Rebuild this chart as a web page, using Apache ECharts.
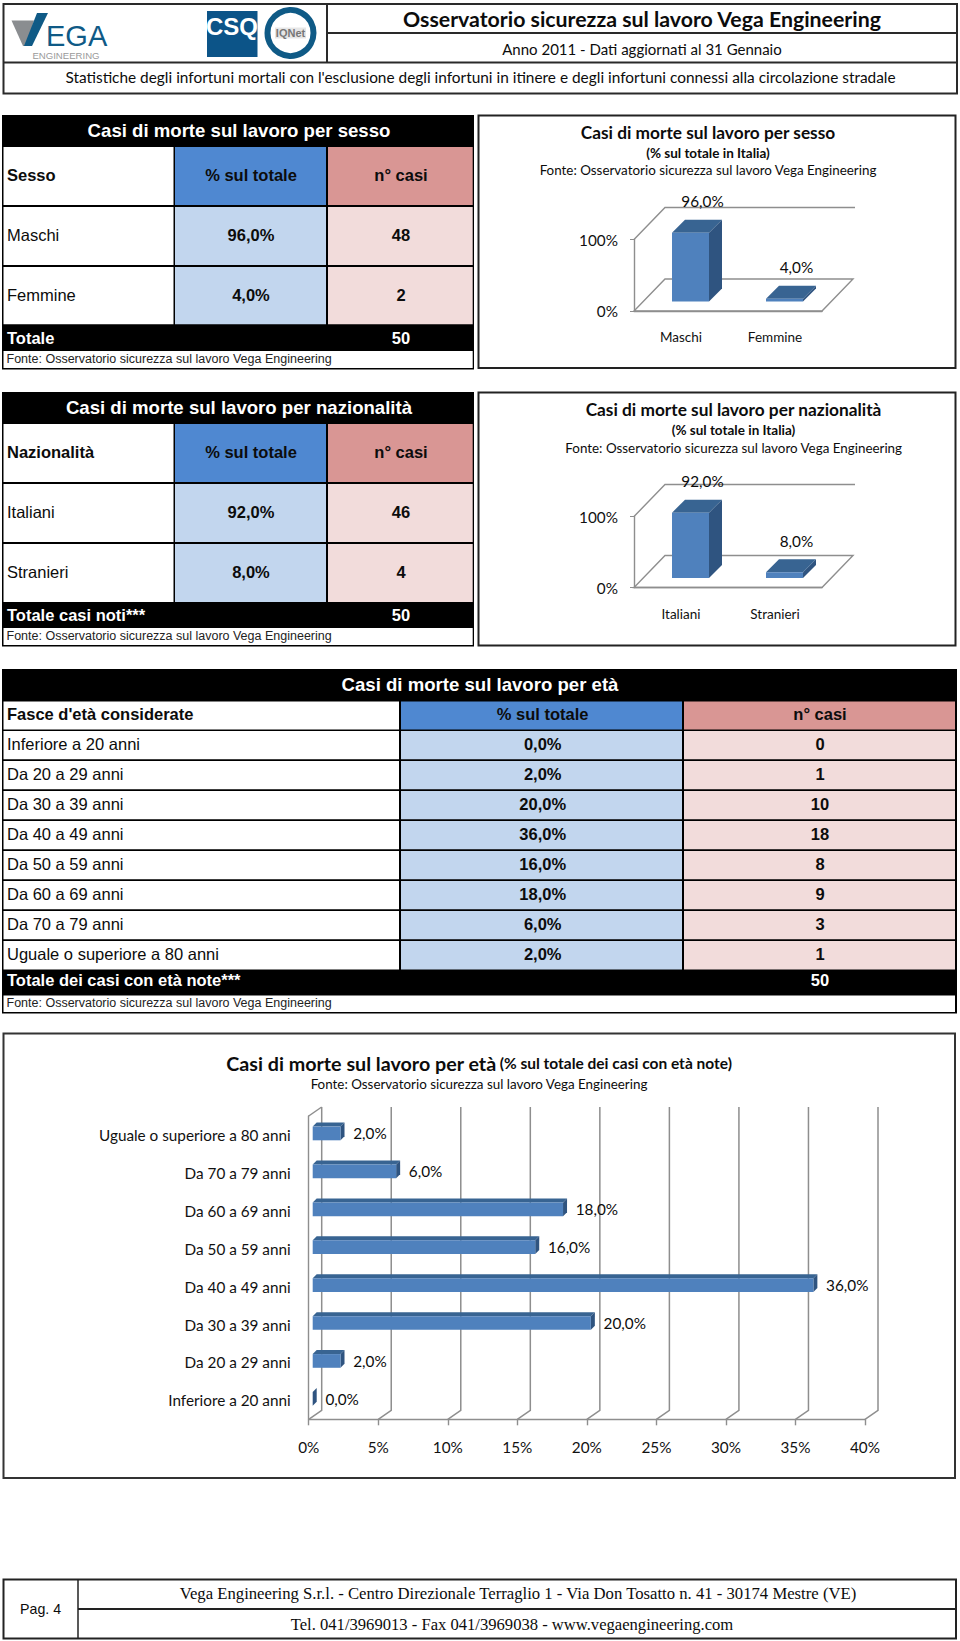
<!DOCTYPE html>
<html><head><meta charset="utf-8">
<style>html,body{margin:0;padding:0;background:#fff}#c{width:960px;height:1641px}</style>
<script src="https://cdn.jsdelivr.net/npm/echarts@6/dist/echarts.min.js"></script>
</head><body><div id="c"></div>
<script>
const genderCategories = ['Maschi', 'Femmine'];
const genderPct = [96, 4];
const genderCases = [48, 2];
const genderTotal = 50;
const nationCategories = ['Italiani', 'Stranieri'];
const nationPct = [92, 8];
const nationCases = [46, 4];
const nationTotal = 50;
const ageCategories = ['Inferiore a 20 anni', 'Da 20 a 29 anni', 'Da 30 a 39 anni', 'Da 40 a 49 anni', 'Da 50 a 59 anni', 'Da 60 a 69 anni', 'Da 70 a 79 anni', 'Uguale o superiore a 80 anni'];
const agePct = [0, 2, 20, 36, 16, 18, 6, 2];
const ageCases = [0, 1, 10, 18, 8, 9, 3, 1];
const ageTotal = 50;
const shareTicks = [100, 0];
const ageTicks = [0, 5, 10, 15, 20, 25, 30, 35, 40];

const SANS = '"Liberation Sans"', CAL = 'Lato', SERIF = '"Liberation Serif"';
const FRONT = '#4f81bd', TOP = '#386492', SIDE = '#2f5480', GRID = '#8e8e8e';
const fmt = v => v.toFixed(1).replace('.', ',') + '%';
const els = [];
function rect(x0, y0, x1, y1, fill, stroke, lw) {
  els.push({type: 'rect', silent: true, shape: {x: x0, y: y0, width: x1 - x0, height: y1 - y0},
    style: {fill: fill || 'none', stroke: stroke || null, lineWidth: lw || 0}});
}
function text(t, x, y, size, opt) {
  opt = opt || {};
  els.push({type: 'text', silent: true, style: {text: t, x: x, y: y, fill: opt.color || '#0c0c0c',
    font: (opt.bold ? 'bold ' : '') + size + 'px ' + (opt.family || SANS),
    align: opt.align || 'center', verticalAlign: 'middle'}});
}
function poly(points, fill) {
  els.push({type: 'polygon', silent: true, shape: {points: points}, style: {fill: fill}});
}
const BLUE_H = '#4f88d1', RED_H = '#d99694', BLUE_C = '#c2d6ee', RED_C = '#f2dcdb';

function sideTable(t) {
  rect(2, t.top, 474, t.bottom + 1, '#000');
  text(t.title, 239, t.titleY, 18.6, {color: '#fff', bold: true});
  rect(3.5, t.rows[0][0], 173.5, t.rows[0][1], '#fff');
  rect(175, t.rows[0][0], 326, t.rows[0][1], BLUE_H);
  rect(328, t.rows[0][0], 472.7, t.rows[0][1], RED_H);
  text(t.head, 7, t.headY, 16.5, {bold: true, align: 'left'});
  text('% sul totale', 251, t.headY, 16.5, {bold: true});
  text('n° casi', 401, t.headY, 16.5, {bold: true});
  t.cats.forEach((c, i) => {
    const r = t.rows[i + 1];
    rect(3.5, r[0], 173.5, r[1], '#fff');
    rect(175, r[0], 326, r[1], BLUE_C);
    rect(328, r[0], 472.7, r[1], RED_C);
    text(c, 7, t.rowY[i], 16.5, {align: 'left'});
    text(fmt(t.pct[i]), 251, t.rowY[i], 16.5, {bold: true});
    text(String(t.cases[i]), 401, t.rowY[i], 16.5, {bold: true});
  });
  text(t.totalLabel, 7, t.totalY, 16.5, {color: '#fff', bold: true, align: 'left'});
  text(String(t.total), 401, t.totalY - 0.5, 16.5, {color: '#fff', bold: true});
  rect(3.5, t.fonteTop, 472.7, t.bottom - 0.5, '#fff');
  text('Fonte: Osservatorio sicurezza sul lavoro Vega Engineering', 6.5, t.fonteY, 12.5, {align: 'left', color: '#222'});
}

/* header */
rect(3.5, 4, 957, 93.5, '#fff', '#2a2a2a', 2);
els.push({type: 'line', silent: true, shape: {x1: 3.5, y1: 62.5, x2: 957, y2: 62.5}, style: {stroke: '#2a2a2a', lineWidth: 2}});
els.push({type: 'line', silent: true, shape: {x1: 327, y1: 4, x2: 327, y2: 62.5}, style: {stroke: '#2a2a2a', lineWidth: 2}});
els.push({type: 'line', silent: true, shape: {x1: 327, y1: 33, x2: 957, y2: 33}, style: {stroke: '#2a2a2a', lineWidth: 2}});
poly([[11.5, 20.5], [34, 20.5], [27, 46], [23, 46]], '#8a8d90');
poly([[24, 46], [32, 46], [48, 13], [37, 13]], '#0f5a86');
text('EGA', 46, 35.5, 29, {color: '#0f5a86', align: 'left'});
text('ENGINEERING', 66, 55, 9.6, {color: '#9a9a9a'});
rect(207, 11, 257.5, 57, '#0c5488');
text('CSQ', 232, 26, 24, {color: '#fff', bold: true});
els.push({type: 'circle', silent: true, shape: {cx: 290.5, cy: 33, r: 23}, style: {fill: '#fff', stroke: '#0f5a86', lineWidth: 6}});
rect(275, 27.5, 306, 38.5, '#e6e6e6');
text('IQNet', 290.5, 33, 11, {color: '#777', bold: true});
text('Osservatorio sicurezza sul lavoro Vega Engineering', 642, 19, 21.3, {bold: true, family: CAL});
text('Anno 2011 - Dati aggiornati al 31 Gennaio', 642, 48.5, 15, {family: CAL});
text("Statistiche degli infortuni mortali con l'esclusione degli infortuni in itinere e degli infortuni connessi alla circolazione stradale", 480.5, 77, 15.4, {family: CAL});

/* side tables */
sideTable({top: 115, bottom: 368.5, title: 'Casi di morte sul lavoro per sesso', titleY: 130, head: 'Sesso', headY: 175,
  rows: [[147, 205], [207, 265], [267, 324.3]], rowY: [235, 295], cats: genderCategories, pct: genderPct, cases: genderCases,
  totalLabel: 'Totale', total: genderTotal, totalY: 338, fonteTop: 351, fonteY: 359});
sideTable({top: 392, bottom: 645.5, title: 'Casi di morte sul lavoro per nazionalità', titleY: 407, head: 'Nazionalità', headY: 451.7,
  rows: [[424, 482], [484, 542], [544, 602]], rowY: [511.7, 571.7], cats: nationCategories, pct: nationPct, cases: nationCases,
  totalLabel: 'Totale casi noti***', total: nationTotal, totalY: 615, fonteTop: 628, fonteY: 635.7});

/* age table */
rect(2, 669, 957, 1013.5, '#000');
text('Casi di morte sul lavoro per età', 480, 684, 18.6, {color: '#fff', bold: true});
const ageRowTop = i => 731 + i * 30;
rect(3.5, 701.5, 399, 729.5, '#fff'); rect(401, 701.5, 682, 729.5, BLUE_H); rect(684, 701.5, 955, 729.5, RED_H);
text("Fasce d'età considerate", 7, 714, 16.5, {bold: true, align: 'left'});
text('% sul totale', 542.7, 714, 16.5, {bold: true});
text('n° casi', 820, 714, 16.5, {bold: true});
ageCategories.forEach((c, i) => {
  const y0 = ageRowTop(i), y1 = i === 7 ? 969.5 : y0 + 28.3, cy = y0 + 12.7;
  rect(3.5, y0, 399, y1, '#fff'); rect(401, y0, 682, y1, BLUE_C); rect(684, y0, 955, y1, RED_C);
  text(c, 7, cy, 16.5, {align: 'left'});
  text(fmt(agePct[i]), 542.7, cy, 16.5, {bold: true});
  text(String(ageCases[i]), 820, cy, 16.5, {bold: true});
});
text('Totale dei casi con età note***', 7, 980, 16.5, {color: '#fff', bold: true, align: 'left'});
text(String(ageTotal), 820, 980, 16.5, {color: '#fff', bold: true});
rect(3.5, 995.5, 955, 1012, '#fff');
text('Fonte: Osservatorio sicurezza sul lavoro Vega Engineering', 6.5, 1003, 12.5, {align: 'left', color: '#222'});

/* chart boxes, titles */
rect(478.5, 115.5, 955.5, 368, '#fff', '#222', 2);
rect(478.5, 392.5, 955.5, 645.5, '#fff', '#222', 2);
rect(3.5, 1033.5, 955, 1478, '#fff', '#333', 2);
text('Casi di morte sul lavoro per sesso', 708, 132.5, 17.3, {bold: true, family: CAL});
text('(% sul totale in Italia)', 708, 152.7, 13.5, {bold: true, family: CAL});
text('Fonte: Osservatorio sicurezza sul lavoro Vega Engineering', 708, 170, 13.4, {family: CAL});
text('Casi di morte sul lavoro per nazionalità', 733.5, 409.5, 17.3, {bold: true, family: CAL});
text('(% sul totale in Italia)', 733.5, 430, 13.5, {bold: true, family: CAL});
text('Fonte: Osservatorio sicurezza sul lavoro Vega Engineering', 733.7, 447.7, 13.4, {family: CAL});
els.push({type: 'text', silent: true, style: {x: 479, y: 1063, align: 'center', verticalAlign: 'middle',
  text: '{a|Casi di morte sul lavoro per età} {b|(% sul totale dei casi con età note)}',
  rich: {a: {font: 'bold 19.7px ' + CAL, fill: '#0c0c0c'}, b: {font: 'bold 15.5px ' + CAL, fill: '#0c0c0c'}}}});
text('Fonte: Osservatorio sicurezza sul lavoro Vega Engineering', 479, 1083.5, 13.4, {family: CAL});

/* footer */
rect(3.5, 1579.5, 956, 1638.5, '#fff', '#222', 2);
els.push({type: 'line', silent: true, shape: {x1: 78, y1: 1579.5, x2: 78, y2: 1638.5}, style: {stroke: '#222', lineWidth: 1.5}});
els.push({type: 'line', silent: true, shape: {x1: 78, y1: 1609, x2: 956, y2: 1609}, style: {stroke: '#222', lineWidth: 2}});
text('Pag. 4', 40.6, 1609, 14.2);
text('Vega Engineering S.r.l. - Centro Direzionale Terraglio 1 - Via Don Tosatto n. 41 - 30174 Mestre (VE)', 518, 1593.5, 16.7, {family: SERIF});
text('Tel. 041/3969013 - Fax 041/3969038 - www.vegaengineering.com', 512, 1624.5, 16.6, {family: SERIF});

/* 3D column series built on the axes */
function columnFrame(params, api) {
  const a = api.coord([0, 0]), s = api.size([1, 100]);
  const w = s[0] * 2, h = s[1], x0 = a[0] - s[0] / 2, y0 = a[1];
  const ln = {stroke: GRID, lineWidth: 1.4, fill: 'none'};
  return {type: 'group', children: [
    {type: 'polygon', shape: {points: [[x0, y0], [x0 + w, y0], [x0 + w + 31, y0 - 32], [x0 + 31, y0 - 32]]}, style: ln},
    {type: 'polyline', shape: {points: [[x0, y0 - h], [x0 + 31, y0 - h - 32], [x0 + w + 33, y0 - h - 32]]}, style: ln}
  ]};
}
function columnItem(params, api) {
  const i = api.value(0), v = api.value(1);
  const b = api.coord([i, 0]), t = api.coord([i, v]);
  const bw = 37, ox = 9.5, oy = 9.5, d = 13;
  const x0 = b[0] + ox - bw / 2, x1 = x0 + bw, y0 = b[1] - oy, y1 = t[1] - oy;
  return {type: 'group', children: [
    {type: 'polygon', shape: {points: [[x1, y0], [x1 + d, y0 - d], [x1 + d, y1 - d], [x1, y1]]}, style: {fill: SIDE}},
    {type: 'polygon', shape: {points: [[x0, y1], [x0 + d, y1 - d], [x1 + d, y1 - d], [x1, y1]]}, style: {fill: TOP}},
    {type: 'rect', shape: {x: x0, y: y1, width: bw, height: y0 - y1}, style: {fill: FRONT}},
    {type: 'text', style: {text: fmt(v), x: b[0] + 21.5, y: y1 - d - 18.5, font: '15.3px ' + CAL, fill: '#0c0c0c', align: 'center', verticalAlign: 'middle'}}
  ]};
}
/* 3D horizontal bars on the age axes */
function ageFrame(params, api) {
  const ln = {stroke: GRID, lineWidth: 1.5, fill: 'none'};
  const c0 = api.coord([0, 0]), band = api.size([0, 1])[1];
  const yB = c0[1] + band / 2, yT = c0[1] - band * 7.5;
  const kids = ageTicks.map(tv => {
    const x = api.coord([tv, 0])[0];
    return {type: 'polyline', shape: {points: [[x, yB], [x + 13, yB - 9], [x + 13, yT - 9]]}, style: ln};
  });
  kids.push({type: 'line', shape: {x1: c0[0], y1: yT, x2: c0[0] + 13, y2: yT - 9}, style: ln});
  return {type: 'group', children: kids};
}
function ageItem(params, api) {
  const v = api.value(0), cat = api.value(1);
  const a = api.coord([0, cat]), e = api.coord([v, cat]);
  const bh = 13.7, dx = 4, dy = 4, ox = 4, oy = -1.5;
  const x0 = a[0] + ox, x1 = e[0] + ox, y0 = a[1] + oy - bh / 2, y1 = y0 + bh;
  return {type: 'group', children: [
    {type: 'polygon', shape: {points: [[x0, y0], [x0 + dx, y0 - dy], [x1 + dx, y0 - dy], [x1, y0]]}, style: {fill: TOP}},
    {type: 'polygon', shape: {points: [[x1, y0], [x1 + dx, y0 - dy], [x1 + dx, y1 - dy], [x1, y1]]}, style: {fill: SIDE}},
    {type: 'rect', shape: {x: x0, y: y0, width: x1 - x0, height: bh}, style: {fill: FRONT}},
    {type: 'text', style: {text: fmt(v), x: x1 + 12.7, y: a[1] - 1.5, font: '15.3px ' + CAL, fill: '#0c0c0c', align: 'left', verticalAlign: 'middle'}}
  ]};
}
const axisLine = {show: true, lineStyle: {color: GRID, width: 1.4}};
const pctLabel = v => v + '%';
function shareX(cats, idx) {
  return {gridIndex: idx, type: 'category', data: cats, axisLine: axisLine, axisTick: {show: false},
    axisLabel: {margin: 19, fontFamily: CAL, fontSize: 13.5, color: '#111', interval: 0}};
}
function shareY(idx) {
  return {gridIndex: idx, type: 'value', min: shareTicks[1], max: shareTicks[0], interval: 100, splitLine: {show: false},
    axisLine: axisLine, axisTick: {show: true, length: 4, lineStyle: {color: GRID}},
    axisLabel: {margin: 16, fontFamily: CAL, fontSize: 15.3, color: '#111', formatter: pctLabel}};
}
const chart = echarts.init(document.getElementById('c'), null, {renderer: 'svg', width: 960, height: 1641});
chart.setOption({
  animation: false,
  backgroundColor: '#fff',
  grid: [
    {left: 634, top: 239.5, width: 188, height: 71.5},
    {left: 634, top: 516.5, width: 188, height: 71},
    {left: 308.7, top: 1116, width: 556.3, height: 303.3}
  ],
  xAxis: [shareX(genderCategories, 0), shareX(nationCategories, 1),
    {gridIndex: 2, type: 'value', min: 0, max: 40, interval: 5, splitLine: {show: false}, axisLine: axisLine,
     axisTick: {show: true, length: 6, lineStyle: {color: GRID, width: 1.4}},
     axisLabel: {margin: 20, fontFamily: CAL, fontSize: 15.3, color: '#111', formatter: pctLabel}}],
  yAxis: [shareY(0), shareY(1),
    {gridIndex: 2, type: 'category', data: ageCategories, axisLine: axisLine, axisTick: {show: false},
     axisLabel: {margin: 18, fontFamily: CAL, fontSize: 15.3, color: '#111', interval: 0}}],
  series: [
    {type: 'custom', name: 'frame sesso', xAxisIndex: 0, yAxisIndex: 0, renderItem: columnFrame, data: [[0, 0]], silent: true, z: 1},
    {type: 'custom', name: 'frame nazionalità', xAxisIndex: 1, yAxisIndex: 1, renderItem: columnFrame, data: [[0, 0]], silent: true, z: 1},
    {type: 'custom', name: 'frame età', xAxisIndex: 2, yAxisIndex: 2, renderItem: ageFrame, data: [[0, 0]], silent: true, z: 1},
    {type: 'custom', name: '% sesso', xAxisIndex: 0, yAxisIndex: 0, renderItem: columnItem, encode: {x: 0, y: 1}, data: genderPct.map((v, i) => [i, v]), z: 3},
    {type: 'custom', name: '% nazionalità', xAxisIndex: 1, yAxisIndex: 1, renderItem: columnItem, encode: {x: 0, y: 1}, data: nationPct.map((v, i) => [i, v]), z: 3},
    {type: 'custom', name: '% età', xAxisIndex: 2, yAxisIndex: 2, renderItem: ageItem, encode: {x: 0, y: 1}, data: agePct.map((v, i) => [v, i]), z: 3}
  ],
  graphic: {elements: els.map(e => Object.assign(e, {z: -1, zlevel: 0}))}
});
</script></body></html>
